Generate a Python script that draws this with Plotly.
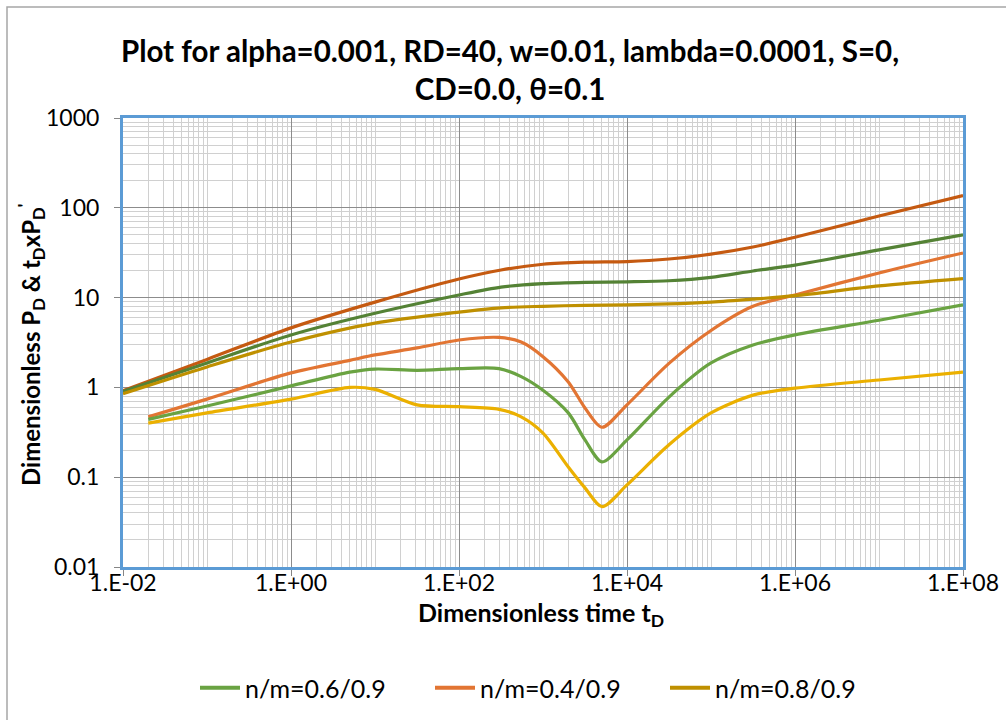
import plotly.graph_objects as go

# Dimensionless time values for the pressure (P_D) curves
t_pd = [0.01, 0.1, 1, 10, 100, 316, 1000, 3162, 1e4, 3.16e4, 1e5, 3.16e5, 1e6, 1e7, 1e8]
pd_06 = [0.90, 1.87, 3.84, 6.7, 10.7, 13.1, 14.3, 14.8, 15.0, 15.4, 16.8, 19.8, 23.0, 34.0, 50.0]
pd_04 = [0.92, 2.05, 4.6, 8.9, 16.1, 20.3, 23.5, 24.8, 25.2, 26.9, 30.5, 36.6, 47.0, 81.0, 137.0]
pd_08 = [0.85, 1.69, 3.2, 5.2, 6.9, 7.7, 8.0, 8.2, 8.3, 8.5, 8.9, 9.6, 10.5, 13.5, 16.3]

# Dimensionless time values for the derivative (t_D x P_D') curves
t_der = [0.02, 0.1, 1, 5, 10, 31.6, 100, 300, 550, 1000, 2000, 3162, 5040, 1e4,
         3.16e4, 1e5, 3.16e5, 1e6, 1e7, 1e8]
der_06 = [0.44, 0.62, 1.04, 1.48, 1.6, 1.55, 1.62, 1.62, 1.32, 0.93, 0.52, 0.26, 0.148, 0.26,
          0.78, 1.87, 2.97, 3.85, 5.6, 8.3]
der_04 = [0.47, 0.74, 1.45, 2.0, 2.3, 2.75, 3.37, 3.6, 3.2, 2.2, 1.15, 0.59, 0.36, 0.64,
          1.85, 4.3, 8.0, 10.7, 18.8, 31.4]
der_08 = [0.40, 0.52, 0.74, 1.0, 0.95, 0.64, 0.61, 0.57, 0.47, 0.31, 0.13, 0.076, 0.047, 0.082,
          0.23, 0.52, 0.82, 0.98, 1.21, 1.48]

series_names = ["n/m=0.6/0.9", "n/m=0.4/0.9", "n/m=0.8/0.9"]

x_tickvals = [1e-2, 1e0, 1e2, 1e4, 1e6, 1e8]
x_ticktext = ["1.E-02", "1.E+00", "1.E+02", "1.E+04", "1.E+06", "1.E+08"]
y_tickvals = [0.01, 0.1, 1, 10, 100, 1000]
y_ticktext = ["0.01", "0.1", "1", "10", "100", "1000"]

FONT = "Lato"

fig = go.Figure()

def add_curve(x, y, color, name):
    fig.add_trace(go.Scatter(
        x=x, y=y, mode="lines", name=name, showlegend=False,
        line=dict(color=color, width=3.2, shape="spline", smoothing=0.8),
    ))

# Pressure curves (upper, darker shades)
add_curve(t_pd, pd_04, "#C55A11", series_names[1])
add_curve(t_pd, pd_06, "#548235", series_names[0])
# Derivative curves (lower, lighter shades)
add_curve(t_der, der_04, "#E27533", series_names[1])
add_curve(t_der, der_06, "#6AA342", series_names[0])
add_curve(t_der, der_08, "#EBB000", series_names[2])
add_curve(t_pd, pd_08, "#BF9000", series_names[2])

# Legend entries
for name, color in zip(series_names, ["#6AA342", "#E27533", "#BF9000"]):
    fig.add_trace(go.Scatter(x=[None], y=[None], mode="lines", name=name,
                             line=dict(color=color, width=4)))

# Minor gridline positions (2..9 within each decade, plus odd decades on x)
x_minor = [k * 10.0 ** e for e in range(-2, 8) for k in range(1, 10)
           if not (k == 1 and e % 2 == 0)]
y_minor = [k * 10.0 ** e for e in range(-2, 3) for k in range(2, 10)]

fig.update_xaxes(
    type="log", range=[-2, 8],
    tickvals=x_tickvals, ticktext=x_ticktext,
    ticks="outside", ticklen=6, tickcolor="#868686", ticklabelstandoff=-13,
    showgrid=True, gridcolor="#8C8C8C", gridwidth=1,
    minor=dict(tickvals=x_minor, showgrid=True, gridcolor="#D0D0D0", gridwidth=1, ticks=""),
    showline=True, linecolor="#5B9BD5", linewidth=3, mirror=True,
    tickfont=dict(family=FONT, size=23, color="#000000"),
    zeroline=False,
)
fig.update_yaxes(
    type="log", range=[-2, 3],
    tickvals=y_tickvals, ticktext=y_ticktext,
    ticks="outside", ticklen=6, tickcolor="#868686", ticklabelstandoff=10,
    showgrid=True, gridcolor="#8C8C8C", gridwidth=1,
    minor=dict(tickvals=y_minor, showgrid=True, gridcolor="#D0D0D0", gridwidth=1, ticks=""),
    showline=True, linecolor="#5B9BD5", linewidth=3, mirror=True,
    tickfont=dict(family=FONT, size=23, color="#000000"),
    zeroline=False,
)

# Axis titles
fig.add_annotation(
    text="<b>Dimensionless time t<sub>D</sub></b>",
    xref="paper", yref="paper", x=(541 - 123) / 840, y=(567 - 614) / 449,
    xanchor="center", yanchor="middle", showarrow=False,
    font=dict(family=FONT, size=25, color="#000000"),
)
fig.add_annotation(
    text="<b>Dimensionless P<sub>D</sub> & t<sub>D</sub>xP<sub>D</sub><sup>'</sup></b>",
    xref="paper", yref="paper", x=(31 - 123) / 840, y=(567 - 345) / 449,
    xanchor="center", yanchor="middle", textangle=-90, showarrow=False,
    font=dict(family=FONT, size=24, color="#000000"),
)

# Outer chart border
fig.add_shape(type="rect", xref="paper", yref="paper",
              x0=-116 / 840, x1=1.06, y0=-0.36, y1=560 / 449,
              line=dict(color="#A6A6A6", width=1.5), fillcolor="rgba(0,0,0,0)", layer="below")

fig.update_layout(
    width=1006, height=720,
    margin=dict(l=123, r=43, t=118, b=153, autoexpand=False),
    paper_bgcolor="white", plot_bgcolor="white",
    title=dict(
        text="<b>Plot for alpha=0.001, RD=40, w=0.01, lambda=0.0001, S=0,<br>CD=0.0, θ=0.1</b>",
        x=0.507, xref="container", xanchor="center",
        y=1 - 62 / 720, yref="container", yanchor="top",
        font=dict(family=FONT, size=29.5, color="#000000"),
    ),
    legend=dict(
        orientation="h", x=(195 - 123) / 840, xanchor="left", y=(567 - 688) / 449, yanchor="middle",
        font=dict(family=FONT, size=25, color="#000000"),
        entrywidth=180, entrywidthmode="pixels", itemwidth=40,
        bgcolor="rgba(0,0,0,0)",
    ),
    showlegend=True,
)

fig.write_html("out.html")
